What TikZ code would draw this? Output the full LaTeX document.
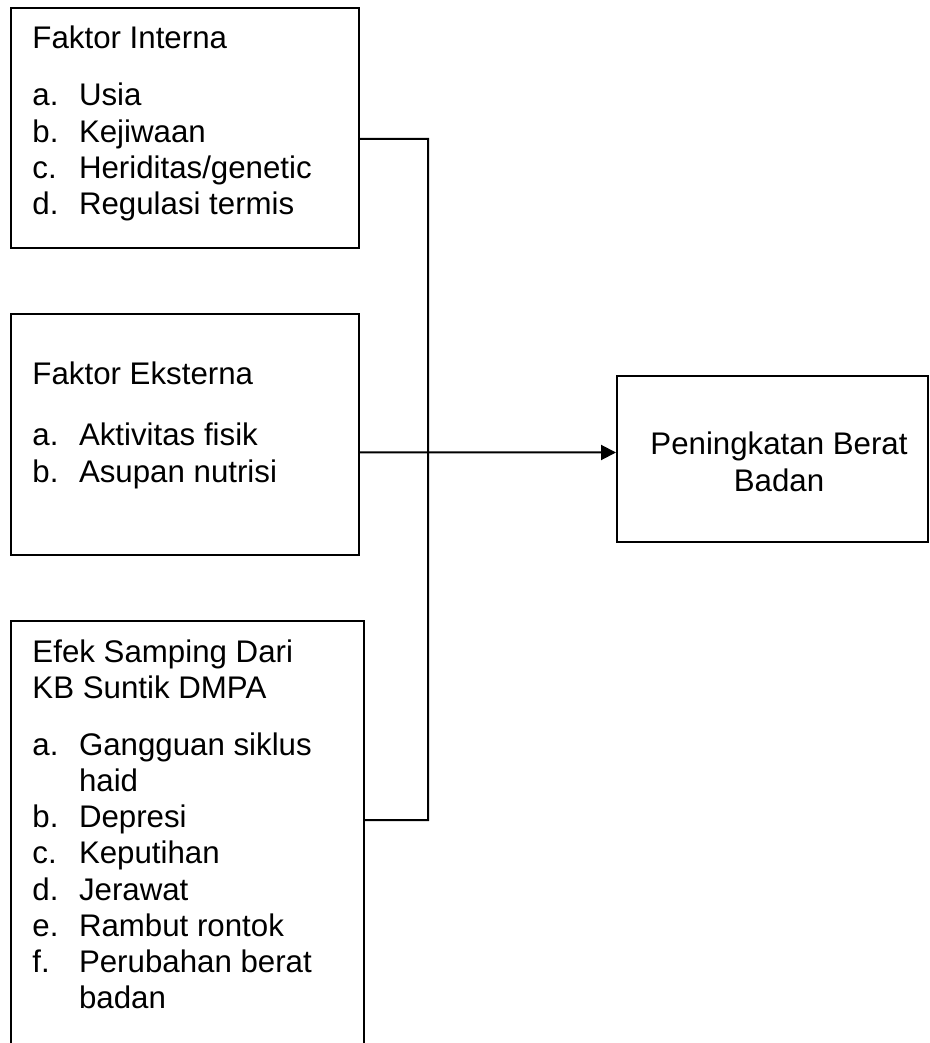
\documentclass[tikz,border=0pt]{standalone}
\usepackage{fontspec}
\setmainfont{Liberation Sans}
\usepackage{tikz}
\usetikzlibrary{arrows.meta}
\tikzset{box/.style={rectangle,draw,line width=0.8pt,inner sep=0pt}}
\tikzset{txt/.style={anchor=base west,inner sep=0pt}}
\newcommand{\itemlbl}[1]{\makebox[18.6pt][l]{#1}}

\begin{document}
\begin{tikzpicture}[x=0.4pt,y=-0.4pt,>={Triangle[length=6pt,width=6pt]},font=\fontsize{12.5}{14.5}\selectfont]
    \useasboundingbox (0,0) rectangle (930,1043);
    \clip (0,0) rectangle (930,1043);

    \node[box,minimum width=139.2pt,minimum height=96pt] (intern) at (185,128) {};
    \node[box,minimum width=139.2pt,minimum height=96.4pt] (ekstern) at (185,434.5) {};
    \node[box,minimum width=141.2pt,minimum height=175.6pt] (efek) at (187.5,840.5) {};
    \node[box,minimum width=124.4pt,minimum height=66.4pt] (hasil) at (772.5,459) {};

    \node[txt] (internT) at (32,49) {Faktor Interna};
    \node[txt] (internL) at (32,106) {\begin{tabular}[t]{@{}l@{}}
        \itemlbl{a.}Usia\\
        \itemlbl{b.}Kejiwaan\\
        \itemlbl{c.}Heriditas/genetic\\
        \itemlbl{d.}Regulasi termis
    \end{tabular}};

    \node[txt] (eksternT) at (32,385) {Faktor Eksterna};
    \node[txt] (eksternL) at (32,446) {\begin{tabular}[t]{@{}l@{}}
        \itemlbl{a.}Aktivitas fisik\\
        \itemlbl{b.}Asupan nutrisi
    \end{tabular}};

    \node[txt] (efekT) at (32,662) {\begin{tabular}[t]{@{}l@{}}
        Efek Samping Dari\\
        KB Suntik DMPA
    \end{tabular}};
    \node[txt] (efekL) at (32,755) {\begin{tabular}[t]{@{}l@{}}
        \itemlbl{a.}Gangguan siklus\\
        \itemlbl{}haid\\
        \itemlbl{b.}Depresi\\
        \itemlbl{c.}Keputihan\\
        \itemlbl{d.}Jerawat\\
        \itemlbl{e.}Rambut rontok\\
        \itemlbl{f.}Perubahan berat\\
        \itemlbl{}badan
    \end{tabular}};

    \node[txt,anchor=base] (hasilT) at (779,455) {\begin{tabular}[t]{@{}c@{}}
        Peningkatan Berat\\
        Badan
    \end{tabular}};

    \coordinate (bus) at (428,820);
    \draw [line width=0.8pt] ([yshift=-4.4pt]intern.east) -| (bus) -- ([yshift=8.2pt]efek.east);
    \draw [->,line width=0.8pt] ([yshift=-7.2pt]ekstern.east) to [] ([yshift=2.6pt]hasil.west);
\end{tikzpicture}
\end{document}
